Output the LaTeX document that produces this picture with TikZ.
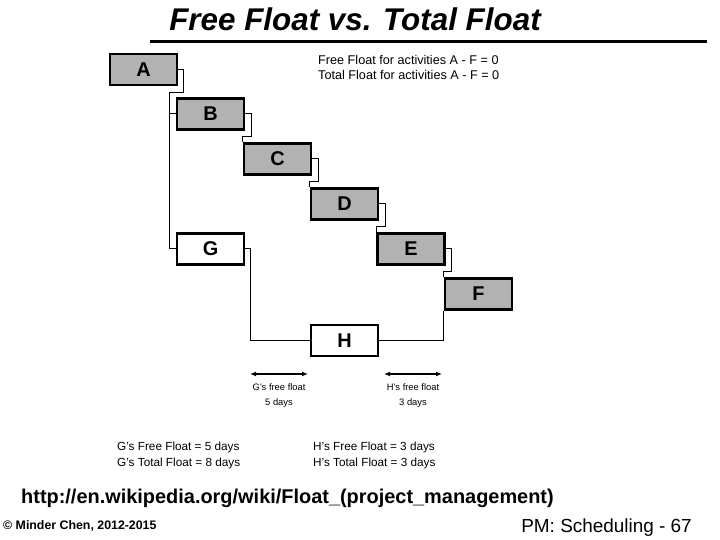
\documentclass[tikz,border=0pt]{standalone}
\usepackage{fontspec}
\setmainfont{Liberation Sans}
\usetikzlibrary{calc,arrows.meta}
\newcommand{\fsz}[1]{\fontsize{#1}{#1}\selectfont}
\tikzset{
  act/.style={draw, line width=2.4bp, minimum width=67bp, minimum height=31bp, inner sep=0pt, font=\fsz{20}\bfseries},
  crit/.style={act, fill=black!30},
  free/.style={act, fill=white},
  link/.style={line width=1bp},
  span/.style={line width=2bp, {Latex[length=6bp,width=5bp]}-{Latex[length=6bp,width=5bp]}},
  txt/.style={inner sep=0pt, anchor=west},
}
\begin{document}
\begin{tikzpicture}[x=1bp,y=-1bp]
\useasboundingbox[fill=white] (0,0) rectangle (720,540);
% title
\node[inner sep=0pt, font=\fsz{31.5}\bfseries\itshape] (title) at (355,19) {Free Float vs. Total Float};
\draw[line width=3bp] (150,42) coordinate (r1) -- (707,42) coordinate (r2);
% activities
\node[crit] (A) at (143.5,69.5) {A};
\node[crit] (B) at (210.5,114) {B};
\node[crit] (C) at (277.5,159) {C};
\node[crit] (D) at (344.5,204) {D};
\node[crit] (E) at (411,249) {E};
\node[crit] (F) at (478.5,294) {F};
\node[free] (G) at (210.5,249) {G};
\node[free] (H) at (344.5,340.5) {H};
% connectors
\coordinate (jab) at ($(B.west)+(-6,0)$);
\draw[link] (A.east) -| ($(A.south east)+(5,6)$) -| (jab) -- (B.west);
\draw[link] (jab) |- (G.west);
\draw[link] (B.east) -- ++(6,0) |- ($(C.north west)+(0,-6)$) -- (C.north west);
\draw[link] (C.east) -- ++(6,0) |- ($(D.north west)+(0,-6)$) -- (D.north west);
\draw[link] (D.east) -- ++(6,0) |- ($(E.north west)+(0,-6)$) -- (E.north west);
\draw[link] (E.east) -- ++(6,0) |- ($(F.north west)+(0,-6)$) -- (F.north west);
\draw[link] (G.east) -- ++(5,0) |- (H.west);
\draw[link] (H.east) -| (F.south west);
% notes
\node[txt, font=\fsz{12.7}] (n1) at (318,60) {Free Float for activities A - F = 0};
\node[txt, font=\fsz{12.7}] (n2) at (318,75) {Total Float for activities A - F = 0};
% free float spans
\coordinate (g1) at (250,374); \coordinate (g2) at (308,374);
\coordinate (h1) at (384,374); \coordinate (h2) at (442,374);
\draw[span] (g1) -- (g2);
\draw[span] (h1) -- (h2);
\node[inner sep=0pt, font=\fsz{9.4}] (gl1) at (279,387) {G's free float};
\node[inner sep=0pt, font=\fsz{9.4}] (gl2) at (279,403) {5 days};
\node[inner sep=0pt, font=\fsz{9.4}] (hl1) at (413,387) {H's free float};
\node[inner sep=0pt, font=\fsz{9.4}] (hl2) at (413,403) {3 days};
% summaries
\node[txt, font=\fsz{11.8}] (s1) at (117,447) {G's Free Float = 5 days};
\node[txt, font=\fsz{11.8}] (s2) at (117,463) {G's Total Float = 8 days};
\node[txt, font=\fsz{11.8}] (s3) at (313,447) {H's Free Float = 3 days};
\node[txt, font=\fsz{11.8}] (s4) at (313,463) {H's Total Float = 3 days};
% footer
\node[txt, font=\fsz{20}\bfseries] (url) at (21,498) {http://en.wikipedia.org/wiki/Float\_(project\_management)};
\node[txt, font=\fsz{12.4}\bfseries] (copy) at (3,526) {© Minder Chen, 2012-2015};
\node[inner sep=0pt, anchor=east, font=\fsz{19}] (pg) at (692,528) {PM: Scheduling - 67};
\end{tikzpicture}
\end{document}
